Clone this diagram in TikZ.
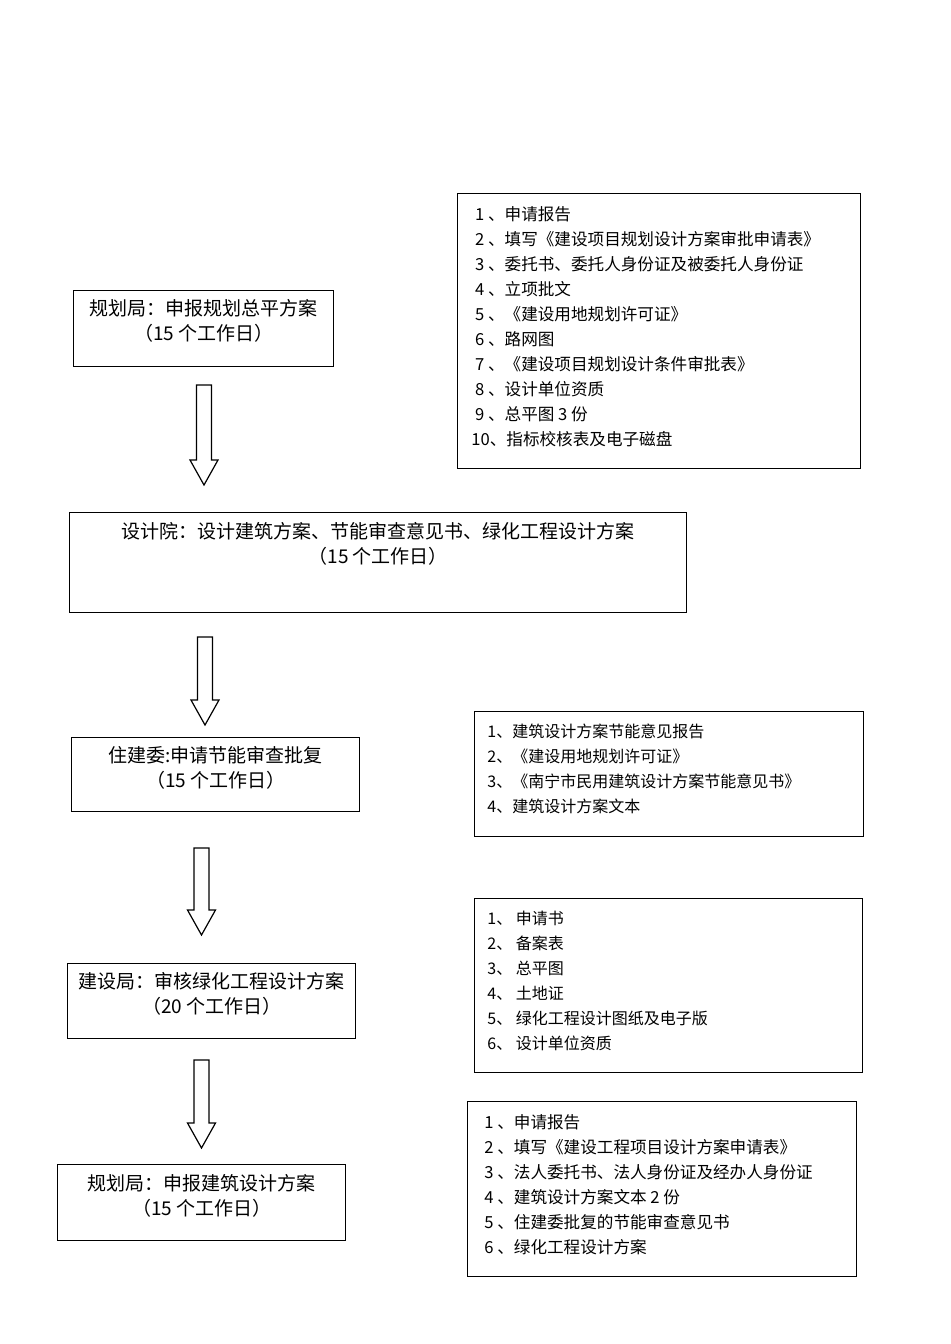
\documentclass[tikz,border=0pt]{standalone}
\usepackage{fontspec}
\newfontfamily\cjk{Noto Sans CJK SC}
\usetikzlibrary{positioning}

\begin{document}
\begin{tikzpicture}[%
    x=0.5pt, y=-0.5pt,
    stepbox/.style={draw, line width=0.7pt, inner sep=0, anchor=north west},
    steptext/.style={font=\cjk\fontsize{9.5}{12.5}\selectfont, align=center, inner sep=0},
    listtext/.style={font=\cjk\fontsize{8}{12.5}\selectfont, align=left, inner sep=0, anchor=north west},
    widelist/.style={listtext, font=\cjk\fontsize{8.3}{12.5}\selectfont},
    flow/.style={draw, line width=0.6pt, line join=miter}
  ]
    \useasboundingbox (0,0) rectangle (950,1344);

    % left column: steps
    \node[stepbox, minimum width=130pt, minimum height=38pt] (ghj1) at (73,290) {};
    \node[steptext, below=4.5pt of ghj1.north] {规划局：申报规划总平方案\\（15 个工作日）};

    \node[stepbox, minimum width=308.5pt, minimum height=50pt] (sjy) at (69,512) {};
    \node[steptext, below=5pt of sjy.north] {设计院：设计建筑方案、节能审查意见书、绿化工程设计方案\\（15 个工作日）};

    \node[stepbox, minimum width=144pt, minimum height=37pt] (zjw) at (71,737) {};
    \node[steptext, below=4.5pt of zjw.north] {住建委:申请节能审查批复\\（15 个工作日）};

    \node[stepbox, minimum width=144pt, minimum height=37.5pt] (jsj) at (67,963) {};
    \node[steptext, below=4.5pt of jsj.north] {建设局：审核绿化工程设计方案\\（20 个工作日）};

    \node[stepbox, minimum width=144pt, minimum height=38pt] (ghj2) at (57,1164) {};
    \node[steptext, below=5pt of ghj2.north] {规划局：申报建筑设计方案\\（15 个工作日）};

    % right column: materials
    \node[stepbox, minimum width=201.5pt, minimum height=137.5pt] (list1) at (457,193) {};
    \node[widelist] at ([xshift=7pt,yshift=-6.5pt]list1.north west) {%
      \ 1 、申请报告\\
      \ 2 、填写《建设项目规划设计方案审批申请表》\\
      \ 3 、委托书、委托人身份证及被委托人身份证\\
      \ 4 、立项批文\\
      \ 5 、《建设用地规划许可证》\\
      \ 6 、路网图\\
      \ 7 、《建设项目规划设计条件审批表》\\
      \ 8 、设计单位资质\\
      \ 9 、总平图 3 份\\
      10、指标校核表及电子磁盘};

    \node[stepbox, minimum width=194.5pt, minimum height=62.5pt] (list2) at (474,711) {};
    \node[listtext] at ([xshift=6.5pt,yshift=-6.5pt]list2.north west) {%
      1、建筑设计方案节能意见报告\\
      2、《建设用地规划许可证》\\
      3、《南宁市民用建筑设计方案节能意见书》\\
      4、建筑设计方案文本};

    \node[stepbox, minimum width=194pt, minimum height=87pt] (list3) at (474,898) {};
    \node[listtext] at ([xshift=6.5pt,yshift=-6.5pt]list3.north west) {%
      1、\ 申请书\\
      2、\ 备案表\\
      3、\ 总平图\\
      4、\ 土地证\\
      5、\ 绿化工程设计图纸及电子版\\
      6、\ 设计单位资质};

    \node[stepbox, minimum width=194.5pt, minimum height=87.5pt] (list4) at (467,1101) {};
    \node[widelist] at ([xshift=8.5pt,yshift=-6.5pt]list4.north west) {%
      1 、申请报告\\
      2 、填写《建设工程项目设计方案申请表》\\
      3 、法人委托书、法人身份证及经办人身份证\\
      4 、建筑设计方案文本 2 份\\
      5 、住建委批复的节能审查意见书\\
      6 、绿化工程设计方案};

    % hollow arrows between steps
    \foreach \ax/\ya/\yb in {204/385/485, 205/637/725, 201.5/848/935, 201.5/1060/1148}
      \draw[flow] ({\ax-7.5},\ya) -- ({\ax+7.5},\ya) -- ({\ax+7.5},{\yb-25})
        -- ({\ax+14},{\yb-25}) -- (\ax,\yb) -- ({\ax-14},{\yb-25})
        -- ({\ax-7.5},{\yb-25}) -- cycle;
\end{tikzpicture}
\end{document}
